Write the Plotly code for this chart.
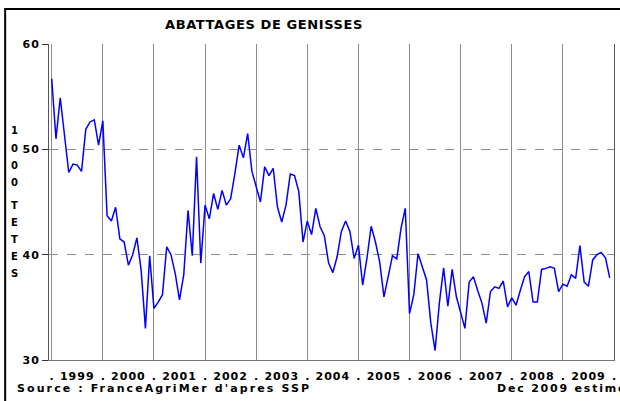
import plotly.graph_objects as go

years = list(range(1999, 2010))
v1999 = [56.7, 51.0, 54.9, 51.4, 47.8, 48.6, 48.5, 47.9, 51.9, 52.6, 52.8, 50.4]
v2000 = [52.7, 43.7, 43.2, 44.5, 41.5, 41.2, 39.0, 40.0, 41.6, 38.5, 33.0, 39.9]
v2001 = [34.9, 35.5, 36.2, 40.75, 40.0, 38.2, 35.7, 38.1, 44.2, 39.9, 49.3, 39.2]
v2002 = [44.7, 43.4, 45.8, 44.3, 46.1, 44.7, 45.3, 47.7, 50.4, 49.2, 51.5, 47.9]
v2003 = [46.4, 45.0, 48.35, 47.5, 48.2, 44.5, 43.1, 44.7, 47.65, 47.5, 46.0, 41.2]
v2004 = [43.2, 41.9, 44.4, 42.65, 41.8, 39.2, 38.3, 39.8, 42.2, 43.2, 42.2, 39.65]
v2005 = [40.9, 37.1, 39.65, 42.7, 41.2, 39.3, 36.0, 37.9, 39.9, 39.6, 42.5, 44.4]
v2006 = [34.4, 36.2, 40.1, 38.85, 37.6, 33.5, 30.9, 35.4, 38.75, 35.1, 38.6, 36.0]
v2007 = [34.5, 33.0, 37.4, 37.9, 36.6, 35.4, 33.5, 36.5, 36.95, 36.8, 37.5, 35.05]
v2008 = [35.9, 35.2, 36.6, 37.9, 38.4, 35.5, 35.5, 38.6, 38.7, 38.85, 38.7, 36.5]
v2009 = [37.2, 37.0, 38.1, 37.75, 40.85, 37.4, 37.0, 39.5, 40.0, 40.2, 39.7, 37.8]
series = [v1999, v2000, v2001, v2002, v2003, v2004, v2005, v2006, v2007, v2008, v2009]

y_ticks = [30, 40, 50, 60]
title_text = "ABATTAGES DE GENISSES"
ylabel_chars = ["1", "0", "0", "0", "T", "E", "T", "E", "S"]
source_text = "Source : FranceAgriMer d'apres SSP"
date_text = "Dec 2009 estime"

xs, ys = [], []
for yr, vals in zip(years, series):
    for m, v in enumerate(vals):
        xs.append(yr + m / 12.0)
        ys.append(v)

def spaced(t, sp):
    return '<span style="letter-spacing:%spx">%s</span>' % (sp, t)

tickvals, ticktext = [], []
for yr in years:
    tickvals += [yr, yr + 0.5]
    ticktext += [".", spaced(str(yr), 1)]
tickvals.append(years[-1] + 1)
ticktext.append(".")

FONT = "DejaVu Sans"
L, R, T, B = 49, 4, 44, 41
W, H = 620, 401
pw, ph = W - L - R, H - T - B

def px2paper(px, py):
    return (px - L) / pw, (H - B - py) / ph

fig = go.Figure()
fig.add_trace(go.Scatter(x=xs, y=ys, mode="lines",
                         line=dict(color="#0000FF", width=1.5), showlegend=False))

fig.update_layout(
    width=W, height=H, autosize=False,
    margin=dict(l=L, r=R, t=T, b=B),
    paper_bgcolor="white", plot_bgcolor="white",
    font=dict(family=FONT, color="black"),
    xaxis=dict(range=[1998.947, 2010.0], tickmode="array", tickvals=tickvals,
               ticktext=ticktext, showgrid=False, zeroline=False,
               showline=True, linecolor="#777", linewidth=1,
               ticks="", ticklabelstandoff=6,
               tickfont=dict(family=FONT, size=11, weight="bold"),
               minor=dict(tick0=1999, dtick=1, showgrid=True, gridcolor="#8c8c8c",
                          gridwidth=1, ticks="")),
    yaxis=dict(range=[30, 60], tickmode="array", tickvals=y_ticks,
               ticktext=[spaced(str(v), 1) for v in y_ticks],
               showgrid=True, gridcolor="#8c8c8c", griddash="dash", gridwidth=1,
               zeroline=False, showline=True, mirror=True, linecolor="#555",
               linewidth=1, ticks="outside", ticklen=6, tickcolor="#333",
               tickfont=dict(family=FONT, size=11, weight="bold")),
)

ann = []
tx, ty = px2paper(265, 25)
ann.append(dict(x=tx, y=ty, xref="paper", yref="paper", text=spaced(title_text, 0.6),
                showarrow=False, font=dict(family=FONT, size=13, weight="bold"),
                xanchor="center", yanchor="middle"))
ypos = [130, 148, 165, 182, 205, 222, 239, 256, 273]
for ch, py in zip(ylabel_chars, ypos):
    ax, ay = px2paper(14, py)
    ann.append(dict(x=ax, y=ay, xref="paper", yref="paper", text=ch, showarrow=False,
                    font=dict(family=FONT, size=10, weight="bold"),
                    xanchor="center", yanchor="middle"))
sx, sy = px2paper(15, 388)
ann.append(dict(x=sx, y=sy, xref="paper", yref="paper", text=spaced(source_text, 2.1),
                showarrow=False, font=dict(family=FONT, size=11, weight="bold"),
                xanchor="left", yanchor="middle"))
dx, dy = px2paper(497, 388)
ann.append(dict(x=dx, y=dy, xref="paper", yref="paper", text=spaced(date_text, 1.8),
                showarrow=False, font=dict(family=FONT, size=11, weight="bold"),
                xanchor="left", yanchor="middle"))
fig.update_layout(annotations=ann)

fx0, fy0 = px2paper(5, 9)
fx1, fy1 = px2paper(640, 430)
fig.add_shape(type="rect", xref="paper", yref="paper", x0=fx0, y0=fy1, x1=fx1, y1=fy0,
              line=dict(color="black", width=2), layer="above")

fig.write_html("out.html", config={"displayModeBar": False},
               post_script="document.body.style.margin='0px';")
